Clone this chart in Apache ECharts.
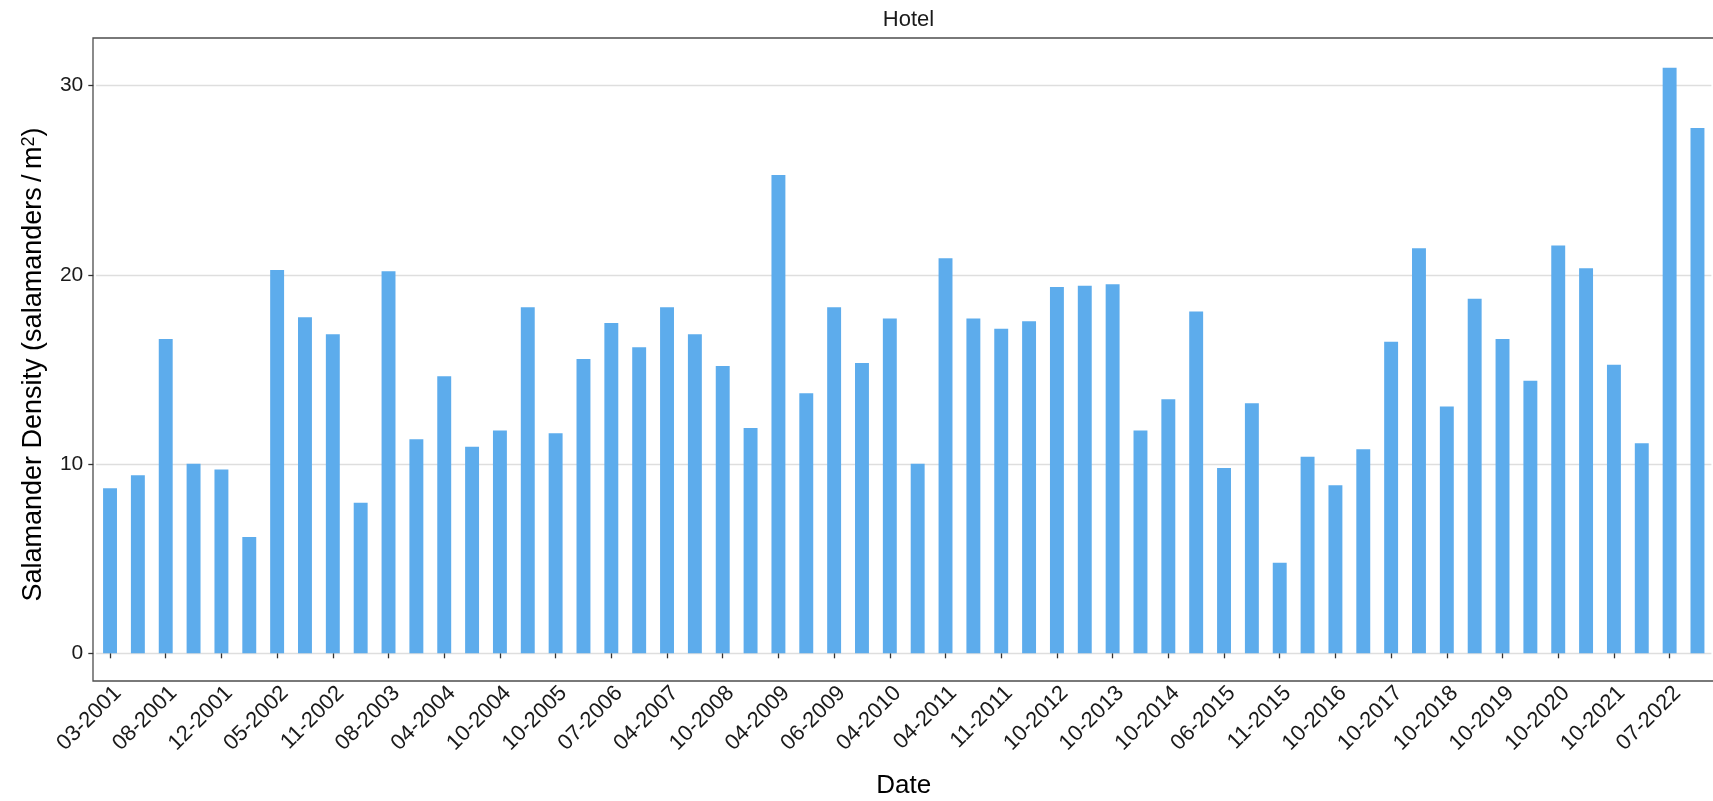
<!DOCTYPE html>
<html>
<head>
<meta charset="utf-8">
<script src="https://cdn.jsdelivr.net/npm/echarts@6/dist/echarts.min.js"></script>
<style>
  html, body { margin: 0; padding: 0; background: #ffffff; }
  #chart { width: 1713px; height: 801px; }
</style>
</head>
<body>
<div id="chart"></div>
<script>
const panelTitle = 'Hotel';
const xAxisTitle = 'Date';
const yAxisTitle = 'Salamander Density (salamanders\u2009/\u2009m{sup|2})';

const categories = [
  '03-2001', '05-2001', '08-2001', '10-2001', '12-2001', '03-2002',
  '05-2002', '08-2002', '11-2002', '04-2003', '08-2003', '10-2003',
  '04-2004', '07-2004', '10-2004', '04-2005', '10-2005', '04-2006',
  '07-2006', '10-2006', '04-2007', '10-2007', '10-2008', '11-2008',
  '04-2009', '05-2009', '06-2009', '10-2009', '04-2010', '10-2010',
  '04-2011', '06-2011', '11-2011', '04-2012', '10-2012', '04-2013',
  '10-2013', '04-2014', '10-2014', '04-2015', '06-2015', '08-2015',
  '11-2015', '04-2016', '10-2016', '04-2017', '10-2017', '04-2018',
  '10-2018', '04-2019', '10-2019', '04-2020', '10-2020', '04-2021',
  '10-2021', '04-2022', '07-2022', '10-2022'
];

const densities = [
  8.72, 9.41, 16.61, 10.02, 9.72, 6.15,
  20.26, 17.76, 16.86, 7.96, 20.19, 11.31,
  14.64, 10.92, 11.77, 18.29, 11.63, 15.55,
  17.46, 16.17, 18.29, 16.86, 15.19, 11.91,
  25.28, 13.74, 18.29, 15.34, 17.69, 10.02,
  20.88, 17.69, 17.16, 17.55, 19.36, 19.43,
  19.50, 11.77, 13.43, 18.06, 9.79, 13.21,
  4.79, 10.39, 8.88, 10.78, 16.47, 21.41,
  13.05, 18.74, 16.61, 14.41, 21.55, 20.35,
  15.25, 11.10, 30.95, 27.76
];

const yMin = 0;
const yMax = 30;
const yStep = 10;

const FONT = '"Liberation Sans", Arial, sans-serif';
const chart = echarts.init(document.getElementById('chart'), null, { renderer: 'canvas' });

chart.setOption({
  animation: false,
  backgroundColor: '#ffffff',
  textStyle: { fontFamily: FONT },
  title: {
    text: panelTitle,
    left: 903.5,
    top: 4,
    textAlign: 'center',
    textStyle: { fontFamily: FONT, fontSize: 22, fontWeight: 'normal', color: '#1a1a1a' }
  },
  grid: [
    { left: 93, top: 38, width: 1630, bottom: 120, show: true, borderColor: '#4d4d4d', borderWidth: 1.3, backgroundColor: 'transparent', outerBoundsMode: 'none', containLabel: false },
    { left: 96.1, right: 1.6, top: 85.7, bottom: 147.7, outerBoundsMode: 'none', containLabel: false }
  ],
  xAxis: [
    { gridIndex: 0, type: 'value', show: false },
    {
      gridIndex: 1,
      type: 'category',
      data: categories,
      offset: 27.7,
      axisLine: { show: false },
      axisTick: { show: true, alignWithLabel: true, interval: 1, length: 5, lineStyle: { color: '#333333', width: 1.3 } },
      axisLabel: { interval: 1, rotate: 45, fontSize: 22, color: '#1a1a1a', margin: 1, align: 'right', verticalAlign: 'top', fontFamily: FONT },
      splitLine: { show: false },
      name: xAxisTitle,
      nameLocation: 'middle',
      nameGap: 92,
      nameTextStyle: { fontSize: 26, color: '#000000', fontFamily: FONT }
    }
  ],
  yAxis: [
    { gridIndex: 0, type: 'value', show: false },
    {
      gridIndex: 1,
      type: 'value',
      min: yMin,
      max: yMax,
      interval: yStep,
      offset: 2.8,
      axisLine: { show: false },
      axisTick: { show: true, length: 5, lineStyle: { color: '#333333', width: 1.3 } },
      axisLabel: { fontSize: 21, color: '#1a1a1a', margin: 10, fontFamily: FONT },
      splitLine: { show: true, lineStyle: { color: '#dedede', width: 1.3 } },
      name: yAxisTitle,
      nameLocation: 'middle',
      nameGap: 46,
      nameTextStyle: {
        fontSize: 27, color: '#000000', fontFamily: FONT,
        padding: [0, 0, 0, 10],
        rich: { sup: { fontSize: 18, verticalAlign: 'top', color: '#000000', fontFamily: FONT } }
      }
    }
  ],
  series: [
    {
      type: 'bar',
      xAxisIndex: 1,
      yAxisIndex: 1,
      data: densities,
      barWidth: '50%',
      clip: false,
      itemStyle: { color: '#5dacec' }
    }
  ]
});
</script>
</body>
</html>
